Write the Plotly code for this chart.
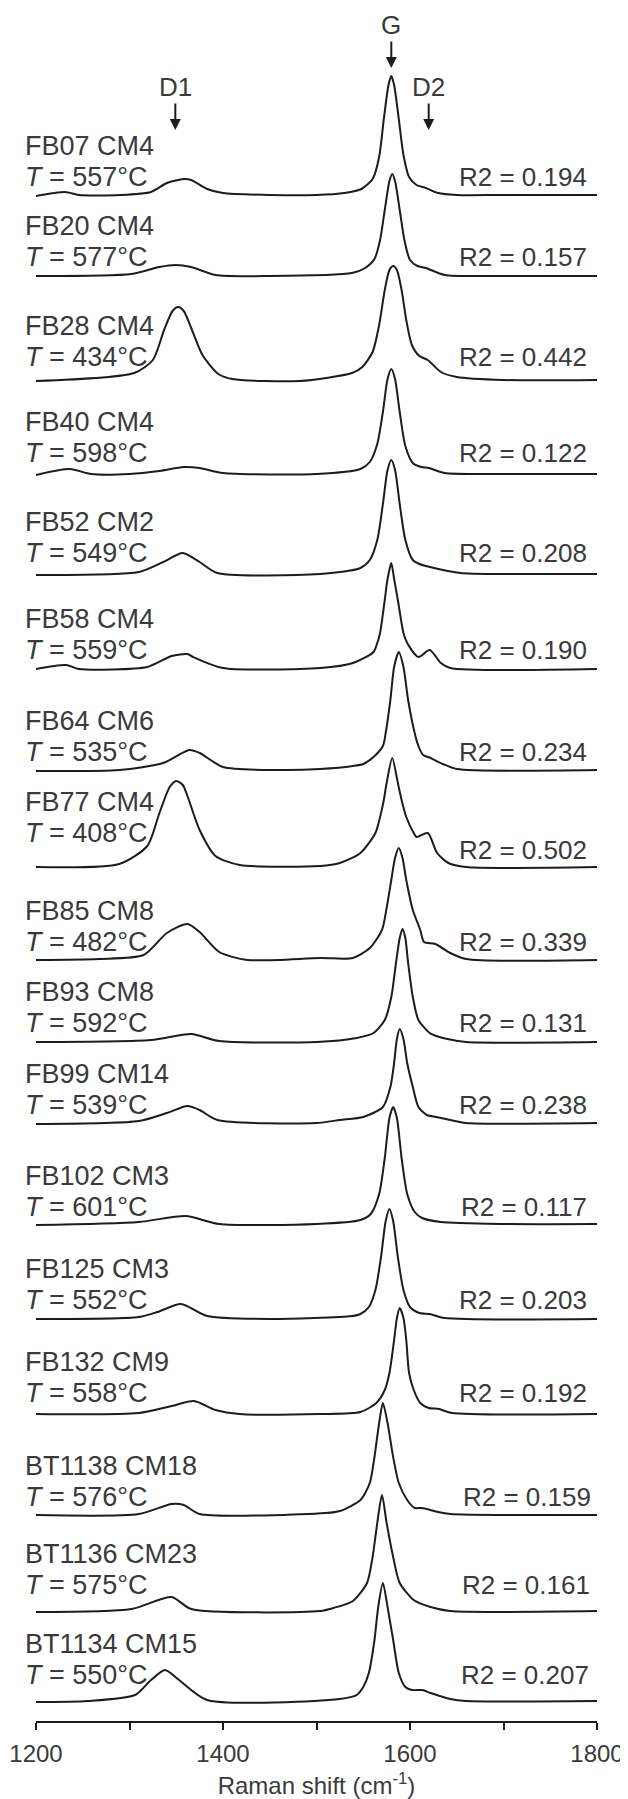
import plotly.graph_objects as go

# ---------------- data ----------------
names = ["FB07 CM4", "FB20 CM4", "FB28 CM4", "FB40 CM4", "FB52 CM2", "FB58 CM4",
         "FB64 CM6", "FB77 CM4", "FB85 CM8", "FB93 CM8", "FB99 CM14", "FB102 CM3",
         "FB125 CM3", "FB132 CM9", "BT1138 CM18", "BT1136 CM23", "BT1134 CM15"]
temps = [557, 577, 434, 598, 549, 559, 535, 408, 482, 592, 539, 601, 552, 558, 576, 575, 550]
r2 = ["0.194", "0.157", "0.442", "0.122", "0.208", "0.190", "0.234", "0.502", "0.339",
      "0.131", "0.238", "0.117", "0.203", "0.192", "0.159", "0.161", "0.207"]

# Raman shift (cm-1) / intensity (arb. units) for each spectrum
FB07_x = [1200, 1231, 1246, 1290, 1323, 1340, 1358, 1366, 1383, 1400, 1450, 1500, 1530, 1548, 1560, 1567, 1572, 1577, 1580, 1583, 1588, 1593, 1599, 1607, 1617, 1630, 1650, 1700, 1800]
FB07_y = [-1, 3, 0, 0, 3, 12, 16, 15, 6, 2, 0, 0, 2, 6, 16, 38, 76, 110, 119, 110, 76, 40, 18, 10, 7, 2, 0, 0, 0]

FB20_x = [1200, 1302, 1332, 1349, 1366, 1392, 1450, 1538, 1552, 1562, 1568, 1573, 1578, 1581, 1584, 1589, 1594, 1600, 1608, 1617, 1637, 1700, 1800]
FB20_y = [0, 2, 9, 11, 9, 1, 0, 3, 8, 17, 36, 66, 95, 102, 95, 66, 36, 16, 10, 8, 1, 0, 0]

FB28_x = [1200, 1305, 1325, 1337, 1346, 1352, 1358, 1366, 1378, 1395, 1410, 1482, 1538, 1549, 1560, 1567, 1573, 1578, 1582, 1586, 1591, 1596, 1602, 1610, 1619, 1633, 1650, 1700, 1800]
FB28_y = [-1, 7, 20, 50, 69, 73, 69, 52, 25, 6, 1, -1, 7, 13, 28, 55, 90, 110, 114, 110, 90, 60, 35, 24, 20, 8, 3, 0, 0]

FB40_x = [1200, 1236, 1259, 1300, 1332, 1358, 1375, 1400, 1500, 1547, 1557, 1565, 1571, 1576, 1580, 1584, 1589, 1595, 1603, 1612, 1620, 1637, 1700, 1800]
FB40_y = [-1, 5, 0, 0, 3, 7, 6, 1, 0, 5, 12, 30, 62, 95, 105, 95, 62, 28, 11, 7, 6, 1, 0, 0]

FB52_x = [1200, 1310, 1336, 1357, 1375, 1394, 1504, 1547, 1557, 1565, 1571, 1576, 1580, 1584, 1589, 1595, 1603, 1610, 1617, 1654, 1700, 1800]
FB52_y = [-1, 2, 12, 21, 12, 1, 0, 6, 14, 34, 70, 104, 114, 104, 70, 34, 14, 10, 8, 1, 0, 0]

FB58_x = [1200, 1232, 1246, 1319, 1345, 1362, 1368, 1400, 1504, 1539, 1561, 1565, 1568, 1573, 1576, 1580, 1583, 1587, 1593, 1597, 1609, 1621, 1633, 1643, 1800]
FB58_y = [0, 4, 0, 2, 13, 15, 12, 1, 1, 6, 17, 26, 36, 69, 90, 106, 90, 69, 36, 26, 12, 19, 6, 1, 0]

FB64_x = [1200, 1289, 1336, 1364, 1375, 1400, 1461, 1504, 1539, 1550, 1561, 1571, 1574, 1579, 1583, 1588, 1593, 1598, 1605, 1609, 1614, 1622, 1635, 1650, 1800]
FB64_y = [-1, 0, 7, 20, 17, 3, 0, 1, 4, 6, 13, 24, 37, 70, 103, 118, 103, 70, 37, 24, 15, 12, 6, 1, 0]

FB77_x = [1200, 1289, 1319, 1332, 1343, 1350, 1357, 1362, 1375, 1392, 1418, 1504, 1525, 1547, 1563, 1568, 1572, 1575, 1581, 1587, 1591, 1596, 1604, 1607, 1619, 1629, 1641, 1660, 1800]
FB77_y = [0, 3, 21, 54, 80, 86, 82, 71, 37, 11, 2, 1, 4, 14, 34, 50, 67, 84, 109, 84, 67, 50, 34, 30, 34, 14, 4, 0, 0]

FB85_x = [1200, 1267, 1315, 1340, 1362, 1375, 1396, 1426, 1504, 1539, 1557, 1570, 1575, 1580, 1584, 1588, 1592, 1596, 1603, 1611, 1615, 1627, 1643, 1660, 1800]
FB85_y = [0, 1, 5, 27, 36, 28, 8, 0, 2, 2, 12, 30, 52, 80, 102, 112, 102, 80, 50, 30, 18, 16, 7, 1, 0]

FB93_x = [1200, 1323, 1366, 1396, 1500, 1543, 1561, 1573, 1580, 1585, 1589, 1592, 1595, 1598, 1603, 1609, 1621, 1628, 1640, 1660, 1800]
FB93_y = [0, 2, 8, 1, 0, 4, 9, 22, 45, 79, 104, 113, 104, 79, 45, 22, 9, 6, 3, 0, 0]

FB99_x = [1200, 1310, 1340, 1362, 1375, 1394, 1500, 1525, 1550, 1571, 1579, 1583, 1586, 1589, 1593, 1597, 1603, 1609, 1618, 1628, 1643, 1660, 1800]
FB99_y = [-1, 2, 10, 17, 13, 3, 0, 3, 6, 16, 36, 60, 84, 94, 84, 60, 36, 16, 8, 6, 3, 0, 0]

FB102_x = [1200, 1310, 1360, 1396, 1500, 1547, 1558, 1567, 1573, 1578, 1582, 1586, 1591, 1597, 1605, 1613, 1633, 1700, 1800]
FB102_y = [-1, 2, 8, 0, 0, 4, 10, 30, 66, 106, 117, 106, 66, 30, 12, 6, 2, 0, 0]

FB125_x = [1200, 1310, 1330, 1355, 1383, 1450, 1538, 1547, 1556, 1563, 1569, 1574, 1578, 1582, 1587, 1593, 1600, 1610, 1621, 1637, 1800]
FB125_y = [0, 2, 7, 15, 3, 0, 3, 5, 12, 29, 62, 98, 110, 98, 62, 29, 12, 6, 5, 1, 0]

FB132_x = [1200, 1310, 1345, 1369, 1392, 1418, 1504, 1547, 1564, 1573, 1578, 1583, 1586, 1589, 1593, 1596, 1599, 1604, 1611, 1620, 1631, 1645, 1800]
FB132_y = [0, 1, 8, 13, 4, 0, 0, 2, 11, 24, 41, 74, 96, 106, 96, 74, 41, 24, 11, 6, 5, 1, 0]

BT1138_x = [1200, 1310, 1345, 1358, 1375, 1510, 1525, 1547, 1557, 1562, 1567, 1571, 1576, 1582, 1588, 1597, 1605, 1611, 1618, 1630, 1643, 1800]
BT1138_y = [0, 1, 11, 10, 1, 2, 4, 15, 32, 58, 92, 112, 92, 58, 32, 15, 7, 7, 6, 3, 1, 0]

BT1136_x = [1200, 1302, 1345, 1366, 1504, 1518, 1539, 1554, 1560, 1565, 1570, 1575, 1582, 1589, 1604, 1622, 1643, 1800]
BT1136_y = [-1, 2, 14, 2, 0, 3, 10, 28, 54, 88, 116, 88, 54, 28, 11, 4, 0, 0]

BT1134_x = [1200, 1255, 1306, 1323, 1338, 1353, 1383, 1525, 1543, 1550, 1556, 1562, 1566, 1571, 1576, 1582, 1588, 1595, 1602, 1613, 1622, 1643, 1660, 1800]
BT1134_y = [-1, 0, 6, 21, 31, 21, 1, 2, 6, 14, 28, 61, 94, 118, 94, 61, 28, 14, 11, 11, 8, 2, 0, 0]

spectra_x = [FB07_x, FB20_x, FB28_x, FB40_x, FB52_x, FB58_x, FB64_x, FB77_x, FB85_x,
             FB93_x, FB99_x, FB102_x, FB125_x, FB132_x, BT1138_x, BT1136_x, BT1134_x]
spectra_y = [FB07_y, FB20_y, FB28_y, FB40_y, FB52_y, FB58_y, FB64_y, FB77_y, FB85_y,
             FB93_y, FB99_y, FB102_y, FB125_y, FB132_y, BT1138_y, BT1136_y, BT1134_y]

band_names = ["D1", "G", "D2"]
band_pos = [1349, 1580, 1620]

# ---------------- layout parameters ----------------
# the page body has an 8px margin, so the figure is drawn 8px right/down
W, H = 620, 1791
ML, MR, MT, MB = 28, 31, 0, 78
YTOP = H - MT - MB          # y data units == pixels
AXIS_PAGE_Y = YTOP + 8      # page pixel row of the x axis line

# vertical stacking offsets of each spectrum baseline
offsets = [1526, 1445, 1341, 1247, 1147, 1052, 951, 854, 761, 679, 598, 497, 402, 307, 206, 110, 20]
t_dy = [18, 19, 23, 21, 21, 19, 18, 34, 18, 19, 18, 17, 19, 21, 18, 26, 26]
r_dy = [18, 19, 23, 21, 21, 19, 18, 17, 18, 19, 18, 17, 19, 21, 18, 26, 26]
r_x = [1791] * 14 + [1796, 1795, 1794]
LINE_GAP = 31
LEFT_PAPER = -13 / (W - ML - MR)

INK = "#1c1c1c"
TXT = "#3a3a3a"
FONT = "Liberation Sans"
FS_L = 27
FS_R = 26

fig = go.Figure()
for xs, ys, off in zip(spectra_x, spectra_y, offsets):
    fig.add_trace(go.Scatter(
        x=xs, y=[v + off for v in ys], mode="lines",
        line=dict(color=INK, width=2, shape="spline", smoothing=0.7),
        hoverinfo="skip", showlegend=False))

ann = []
for i, (nm, t, r, off) in enumerate(zip(names, temps, r2, offsets)):
    ty = off + t_dy[i]
    ann.append(dict(x=LEFT_PAPER, y=ty + LINE_GAP, xref="paper", yref="y", text=nm,
                    showarrow=False, xanchor="left", yanchor="middle",
                    font=dict(family=FONT, size=FS_L, color=TXT)))
    ann.append(dict(x=LEFT_PAPER, y=ty, xref="paper", yref="y", text=f"<i>T</i> = {t}°C",
                    showarrow=False, xanchor="left", yanchor="middle",
                    font=dict(family=FONT, size=FS_L, color=TXT)))
    ann.append(dict(x=r_x[i], y=off + r_dy[i], xref="x", yref="y", text=f"R2 = {r}",
                    showarrow=False, xanchor="right", yanchor="middle",
                    font=dict(family=FONT, size=FS_R, color=TXT)))

# band markers (G, D1, D2): arrow tips at these page rows
tip_px = {"D1": 130, "G": 68, "D2": 130}
for bn, bx in zip(band_names, band_pos):
    ann.append(dict(x=bx, y=AXIS_PAGE_Y - tip_px[bn], xref="x", yref="y", text=bn,
                    showarrow=True, arrowhead=2, arrowsize=1.1, arrowwidth=2,
                    arrowcolor=INK, ax=0, ay=-43, axref="pixel", ayref="pixel",
                    font=dict(family=FONT, size=FS_R, color=TXT)))

fig.update_layout(
    width=W, height=H,
    margin=dict(l=ML, r=MR, t=MT, b=MB),
    paper_bgcolor="white", plot_bgcolor="white",
    showlegend=False,
    annotations=ann,
    xaxis=dict(range=[1200, 1800], showgrid=False, zeroline=False,
               showline=True, linecolor=INK, linewidth=2,
               ticks="outside", ticklen=7, tickwidth=2, tickcolor=INK,
               tick0=1200, dtick=200, ticklabelstandoff=3,
               minor=dict(dtick=100, ticks="outside", ticklen=7, tickwidth=2,
                          tickcolor=INK, showgrid=False),
               tickfont=dict(family=FONT, size=24, color=TXT),
               title=dict(text="Raman shift (cm<sup>-1</sup>)", standoff=16,
                          font=dict(family=FONT, size=24, color=TXT)),
               automargin=False, fixedrange=True),
    yaxis=dict(range=[0, YTOP], visible=False, fixedrange=True, automargin=False),
)

fig.write_html("out.html")
